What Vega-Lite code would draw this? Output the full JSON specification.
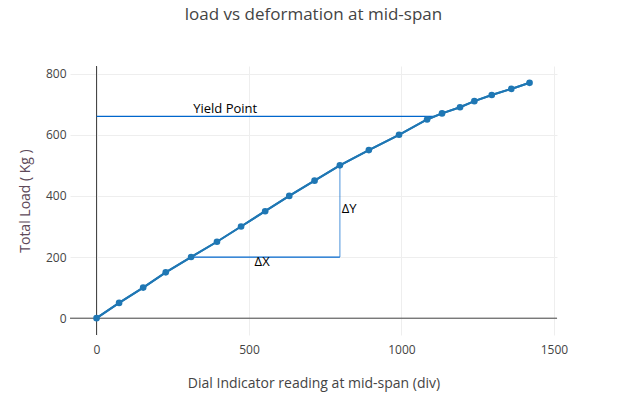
{
  "$schema": "https://vega.github.io/schema/vega-lite/v6.json",
  "width": 487,
  "height": 269,
  "autosize": {"type": "none"},
  "padding": {"left": 70, "top": 66, "right": 63, "bottom": 62},
  "background": "white",
  "title": {
    "text": "load vs deformation at mid-span",
    "font": "Open Sans",
    "fontSize": 17,
    "fontWeight": "normal",
    "color": "#444",
    "anchor": "middle",
    "frame": "group",
    "offset": 42,
    "dx": 0
  },
  "config": {
    "view": {"stroke": null},
    "font": "Open Sans",
    "axis": {
      "gridColor": "#eeeeee",
      "gridWidth": 1,
      "domain": false,
      "ticks": false,
      "labelFont": "Open Sans",
      "labelFontSize": 12,
      "labelColor": "#444",
      "titleFont": "Open Sans",
      "titleFontSize": 14,
      "titleFontWeight": "normal",
      "titleColor": "#444"
    }
  },
  "datasets": {
    "readings": [
      {"div": 0, "load": 0},
      {"div": 74, "load": 50},
      {"div": 153, "load": 100},
      {"div": 227, "load": 150},
      {"div": 310, "load": 200},
      {"div": 395, "load": 250},
      {"div": 474, "load": 300},
      {"div": 553, "load": 350},
      {"div": 632, "load": 400},
      {"div": 715, "load": 450},
      {"div": 798, "load": 500},
      {"div": 893, "load": 550},
      {"div": 992, "load": 600},
      {"div": 1084, "load": 650},
      {"div": 1133, "load": 670},
      {"div": 1192, "load": 690},
      {"div": 1239, "load": 710},
      {"div": 1296, "load": 730},
      {"div": 1360, "load": 750},
      {"div": 1420, "load": 770}
    ],
    "guides": [
      {"name": "yield", "x1": 0, "x2": 1105, "y1": 660, "y2": 660, "color": "#0066cc", "op": 1},
      {"name": "dx", "x1": 310, "x2": 798, "y1": 200, "y2": 200, "color": "#0066cc", "op": 1},
      {"name": "dy", "x1": 798, "x2": 798, "y1": 200, "y2": 500, "color": "#0066cc", "op": 0.55}
    ],
    "labels": [
      {"label": "Yield Point", "x": 422, "y": 684},
      {"label": "ΔX", "x": 543, "y": 183},
      {"label": "ΔY", "x": 828, "y": 357}
    ],
    "zero": [{"z": 0}]
  },
  "layer": [
    {
      "data": {"name": "readings"},
      "mark": {"type": "line", "color": "#1f77b4", "strokeWidth": 2, "clip": true},
      "encoding": {
        "x": {
          "field": "div",
          "type": "quantitative",
          "scale": {"domain": [-87, 1510], "nice": false, "zero": false},
          "axis": {"values": [0, 500, 1000, 1500], "format": "d", "title": "Dial Indicator reading at mid-span (div)", "labelPadding": 9, "titlePadding": 21}
        },
        "y": {
          "field": "load",
          "type": "quantitative",
          "scale": {"domain": [-55, 825], "nice": false, "zero": false},
          "axis": {"values": [0, 200, 400, 600, 800], "format": "d", "title": "Total Load ( Kg )", "labelPadding": 4, "titlePadding": 13, "titleColor": "#5e4a5a"}
        }
      }
    },
    {
      "data": {"name": "zero"},
      "mark": {"type": "rule", "color": "#444", "strokeWidth": 1},
      "encoding": {"x": {"field": "z", "type": "quantitative"}}
    },
    {
      "data": {"name": "zero"},
      "mark": {"type": "rule", "color": "#444", "strokeWidth": 1},
      "encoding": {"y": {"field": "z", "type": "quantitative"}}
    },
    {
      "data": {"name": "guides"},
      "mark": {"type": "rule", "strokeWidth": 1.3},
      "encoding": {
        "x": {"field": "x1", "type": "quantitative"},
        "x2": {"field": "x2"},
        "y": {"field": "y1", "type": "quantitative"},
        "y2": {"field": "y2"},
        "color": {"field": "color", "type": "nominal", "scale": null},
        "opacity": {"field": "op", "type": "quantitative", "scale": null}
      }
    },
    {
      "data": {"name": "readings"},
      "mark": {"type": "line", "color": "#1f77b4", "strokeWidth": 2, "clip": true},
      "encoding": {
        "x": {"field": "div", "type": "quantitative"},
        "y": {"field": "load", "type": "quantitative"}
      }
    },
    {
      "data": {"name": "readings"},
      "mark": {"type": "point", "filled": true, "color": "#1f77b4", "size": 44, "opacity": 1},
      "encoding": {
        "x": {"field": "div", "type": "quantitative"},
        "y": {"field": "load", "type": "quantitative"}
      }
    },
    {
      "data": {"name": "labels"},
      "mark": {"type": "text", "font": "Open Sans", "fontSize": 13, "color": "#000", "align": "center", "baseline": "middle"},
      "encoding": {
        "x": {"field": "x", "type": "quantitative"},
        "y": {"field": "y", "type": "quantitative"},
        "text": {"field": "label"}
      }
    }
  ]
}
